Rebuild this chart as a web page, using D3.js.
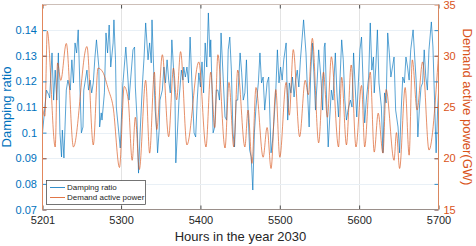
<!DOCTYPE html>
<html><head><meta charset="utf-8">
<script src="https://cdn.jsdelivr.net/npm/d3@7"></script>
<style>
html,body{margin:0;padding:0;background:#fff;}
svg{display:block;font-family:"Liberation Sans",Arial,Helvetica,sans-serif;}
</style></head>
<body><svg id="c" width="476" height="246"></svg>
<script>
// ---------- data ----------
const dampingHours = [5201,5204,5206,5209,5210,5213,5215,5217,5219,5221,5223,5225,5226,5228,5231,5233,5236,5238,5240,5242,5244,5246,5248,5250,5252,5253,5257,5259,5261,5263,5265,5267,5269,5272,5273,5275,5276,5279,5281,5283,5285,5287,5290,5291,5293,5294,5299,5302,5306,5309,5310,5312,5315,5317,5318,5320,5322,5324,5327,5329,5331,5334,5336,5338,5339,5341,5343,5345,5346,5348,5349,5352,5354,5356,5358,5360,5362,5364,5366,5368,5369,5372,5373,5376,5378,5379,5381,5383,5385,5387,5389,5392,5394,5396,5398,5400,5402,5404,5406,5408,5410,5412,5413,5415,5416,5418,5420,5422,5424,5426,5428,5431,5433,5435,5437,5439,5441,5443,5445,5447,5450,5452,5454,5456,5458,5460,5462,5464,5466,5468,5470,5473,5475,5477,5479,5481,5484,5486,5489,5491,5493,5495,5497,5499,5501,5503,5505,5508,5510,5512,5514,5516,5518,5520,5522,5524,5526,5530,5533,5535,5537,5539,5541,5543,5545,5547,5549,5552,5554,5556,5557,5559,5561,5563,5565,5567,5570,5572,5574,5576,5578,5580,5582,5584,5586,5589,5591,5593,5595,5597,5599,5601,5603,5605,5607,5609,5612,5614,5616,5618,5619,5621,5623,5625,5628,5630,5632,5634,5636,5638,5640,5642,5644,5646,5649,5651,5653,5655,5657,5659,5661,5663,5665,5668,5670,5672,5674,5676,5678,5680,5682,5684,5686,5688,5691,5693,5695,5697,5699,5700];
const dampingRatio = [0.0999,0.1100,0.1166,0.1147,0.1135,0.1311,0.1127,0.1244,0.1127,0.1311,0.0999,0.0905,0.1010,0.0901,0.1166,0.1205,0.1166,0.1284,0.1194,0.1350,0.1311,0.1401,0.1194,0.0999,0.1022,0.1166,0.1244,0.1166,0.1205,0.1155,0.1194,0.1291,0.1362,0.1256,0.1022,0.1077,0.1049,0.1155,0.1389,0.1311,0.1420,0.1256,0.1350,0.1440,0.1284,0.1100,0.0940,0.1178,0.1334,0.1194,0.1127,0.1205,0.1323,0.1334,0.1178,0.1061,0.0842,0.0999,0.1194,0.1295,0.1428,0.1284,0.1350,0.1272,0.1440,0.1256,0.1088,0.0999,0.0921,0.1010,0.1127,0.1166,0.1256,0.1194,0.1284,0.1205,0.1155,0.1362,0.1256,0.1127,0.0882,0.1061,0.1127,0.1244,0.1205,0.1256,0.1217,0.1256,0.1194,0.1373,0.1217,0.0999,0.0983,0.1127,0.1233,0.1178,0.1276,0.1155,0.1350,0.1256,0.1467,0.1295,0.1362,0.1127,0.0999,0.1022,0.1166,0.1166,0.1127,0.1389,0.1256,0.1061,0.1049,0.1323,0.1373,0.1244,0.0999,0.0944,0.1127,0.1127,0.1311,0.1233,0.1127,0.1155,0.1284,0.1088,0.0932,0.0905,0.0776,0.0999,0.1100,0.1194,0.1311,0.1194,0.1217,0.1088,0.1194,0.1217,0.0921,0.0971,0.1061,0.1166,0.1323,0.1194,0.1256,0.1205,0.1284,0.1350,0.1049,0.1194,0.1155,0.1217,0.1139,0.1205,0.1244,0.1178,0.1284,0.1440,0.1311,0.1155,0.1022,0.1233,0.1350,0.1233,0.1088,0.1194,0.1323,0.1205,0.1088,0.1334,0.1350,0.1127,0.0944,0.1061,0.1166,0.1127,0.1311,0.1155,0.1061,0.1217,0.1362,0.1284,0.1127,0.1049,0.1088,0.1127,0.1100,0.1311,0.1178,0.1061,0.1194,0.1323,0.1373,0.1194,0.1038,0.1127,0.1217,0.1428,0.1244,0.1295,0.1155,0.1256,0.1401,0.1194,0.1100,0.0921,0.1155,0.1116,0.1389,0.1311,0.1217,0.1256,0.1295,0.1088,0.1022,0.0921,0.1088,0.1217,0.1194,0.1295,0.1256,0.1205,0.1323,0.1401,0.1295,0.1194,0.0983,0.1100,0.1178,0.1194,0.1323,0.1217,0.1166,0.1323,0.1432,0.1334,0.1127,0.0921,0.1100,0.1155];

const demandHours = [5201,5204,5207,5217,5220,5224,5231,5240,5257,5265,5271,5277,5284,5290,5298,5304,5309,5314,5318,5323,5331,5336,5342,5345,5352,5360,5366,5370,5375,5383,5398,5407,5413,5418,5422,5431,5436,5442,5447,5456,5460,5465,5470,5479,5484,5489,5495,5500,5508,5512,5517,5525,5532,5536,5541,5549,5555,5560,5565,5574,5578,5584,5590,5596,5603,5607,5614,5619,5624,5630,5634,5644,5647,5651,5658,5663,5667,5673,5680,5688,5700];
const demandGW = [24.9,24.1,32.4,21.1,29.3,27.6,31.2,21.1,30.9,21.3,28.8,28.4,26.7,25.0,19.1,27.0,25.7,19.8,24.0,18.9,27.6,20.5,28.4,22.8,30.1,22.1,28.8,25.7,30.4,21.3,29.4,21.1,28.4,23.0,30.1,21.0,27.4,21.1,28.6,21.1,24.7,19.5,26.9,20.1,23.0,19.0,26.7,20.1,27.4,24.2,30.6,22.1,27.6,26.2,31.7,21.5,28.4,24.0,29.9,21.1,27.9,21.3,29.1,21.1,27.1,21.1,28.4,20.6,24.4,20.5,26.7,19.8,22.5,19.0,26.9,20.3,29.6,24.7,29.4,20.8,30.1];

const xTicks = [5201,5300,5400,5500,5600,5700];
const leftTicks = [0.07,0.08,0.09,0.10,0.11,0.12,0.13,0.14];
const leftTickLabels = ["0.07","0.08","0.09","0.1","0.11","0.12","0.13","0.14"];
const rightTicks = [15,20,25,30,35];

const seriesNames = ["Damping ratio","Demand active power"];
const xTitle = "Hours in the year 2030";
const leftTitle = "Damping ratio";
const rightTitle = "Demand active power(GW)";

// ---------- layout ----------
const L = 42.5, R = 438.5, T = 4.5, B = 209.5;
const BLUE = "#0072BD", ORANGE = "#D95319", DARK = "#262626";

const svg = d3.select("#c");
const x = d3.scaleLinear().domain([5201,5700]).range([L,R]);
const yL = d3.scaleLinear().domain([0.07,0.15]).range([B,T]);
const yR = d3.scaleLinear().domain([15,35]).range([B,T]);

// grid
const grid = svg.append("g");
grid.selectAll("line.v").data(xTicks.filter(d=>d!==5201 && d!==5700)).join("line")
  .attr("x1",d=>Math.round(x(d))+0.5).attr("x2",d=>Math.round(x(d))+0.5)
  .attr("y1",T).attr("y2",B).attr("stroke","#e3e3e3").attr("stroke-width",1);
grid.selectAll("line.h").data(leftTicks.slice(1)).join("line")
  .attr("x1",L).attr("x2",R)
  .attr("y1",d=>Math.round(yL(d))+0.5).attr("y2",d=>Math.round(yL(d))+0.5)
  .attr("stroke","#e9f0f6").attr("stroke-width",1);

// series
const dData = dampingHours.map((h,i)=>[h,dampingRatio[i]]);
const pData = demandHours.map((h,i)=>[h,demandGW[i]]);
svg.append("path").datum(dData)
  .attr("d", d3.line().x(d=>x(d[0])).y(d=>yL(d[1])))
  .attr("fill","none").attr("stroke",BLUE).attr("stroke-width",0.65).attr("stroke-linejoin","round");
svg.append("path").datum(pData)
  .attr("d", d3.line().x(d=>x(d[0])).y(d=>yR(d[1])).curve(d3.curveMonotoneX))
  .attr("fill","none").attr("stroke",ORANGE).attr("stroke-width",0.65).attr("stroke-linejoin","round");

// axes
function styleAxis(g, col, fs){
  g.select(".domain").remove();
  g.selectAll(".tick line").attr("stroke",col).attr("stroke-width",0.8);
  g.selectAll(".tick text").attr("fill",col).style("font-size",fs+"px").style("font-family","'Liberation Sans',Arial,sans-serif");
}
const gxB = svg.append("g").attr("transform",`translate(0,${B})`)
  .call(d3.axisBottom(x).tickValues(xTicks).tickFormat(d3.format("d")).tickSize(-4).tickPadding(7));
styleAxis(gxB, DARK, 11);
const gxT = svg.append("g").attr("transform",`translate(0,${T})`)
  .call(d3.axisTop(x).tickValues(xTicks).tickFormat("").tickSize(-4));
styleAxis(gxT, DARK, 11);

const gyL = svg.append("g").attr("transform",`translate(${L},0)`)
  .call(d3.axisLeft(yL).tickValues(leftTicks).tickFormat((d,i)=>leftTickLabels[i]).tickSize(-4).tickPadding(5.5));
styleAxis(gyL, BLUE, 11);
const gyL2 = svg.append("g").attr("transform",`translate(${R},0)`)
  .call(d3.axisRight(yL).tickValues(leftTicks).tickFormat("").tickSize(-4));
styleAxis(gyL2, BLUE, 11);

const gyR = svg.append("g").attr("transform",`translate(${R},0)`)
  .call(d3.axisRight(yR).tickValues(rightTicks).tickFormat(d3.format("d")).tickSize(-4).tickPadding(5));
styleAxis(gyR, ORANGE, 11);
const gyR2 = svg.append("g").attr("transform",`translate(${L},0)`)
  .call(d3.axisLeft(yR).tickValues(rightTicks).tickFormat("").tickSize(-4));
styleAxis(gyR2, ORANGE, 11);

// frame
svg.append("line").attr("x1",L).attr("x2",R).attr("y1",T).attr("y2",T).attr("stroke","#cdbfb8").attr("stroke-width",1);
svg.append("line").attr("x1",L).attr("x2",R).attr("y1",B).attr("y2",B).attr("stroke","#9a8f8a").attr("stroke-width",1);
svg.append("line").attr("x1",L).attr("x2",L).attr("y1",T).attr("y2",B).attr("stroke","#e2875c").attr("stroke-width",1);
svg.append("line").attr("x1",R).attr("x2",R).attr("y1",T).attr("y2",B).attr("stroke","#d9875f").attr("stroke-width",1);

// titles
svg.append("text").attr("x",(L+R)/2).attr("y",241).attr("text-anchor","middle")
  .attr("fill",DARK).style("font-size","13px").text(xTitle);
svg.append("text").attr("transform",`translate(11,${(T+B)/2}) rotate(-90)`).attr("text-anchor","middle")
  .attr("fill",BLUE).style("font-size","13px").text(leftTitle);
svg.append("text").attr("transform",`translate(463,${(T+B)/2}) rotate(90)`).attr("text-anchor","middle")
  .attr("fill",ORANGE).style("font-size","13px").text(rightTitle);

// legend
const lg = svg.append("g");
lg.append("rect").attr("x",46.5).attr("y",180.5).attr("width",99).attr("height",24)
  .attr("fill","#fff").attr("stroke","#3a3a3a").attr("stroke-width",0.7);
const items = [{n:seriesNames[0],c:BLUE},{n:seriesNames[1],c:ORANGE}];
items.forEach((it,i)=>{
  const yy = 187.5 + i*10;
  lg.append("line").attr("x1",50).attr("x2",65).attr("y1",yy).attr("y2",yy).attr("stroke",it.c).attr("stroke-width",0.8);
  lg.append("text").attr("x",67).attr("y",yy).attr("dy","0.35em").attr("fill",DARK).style("font-size","8px").text(it.n);
});
</script></body></html>
